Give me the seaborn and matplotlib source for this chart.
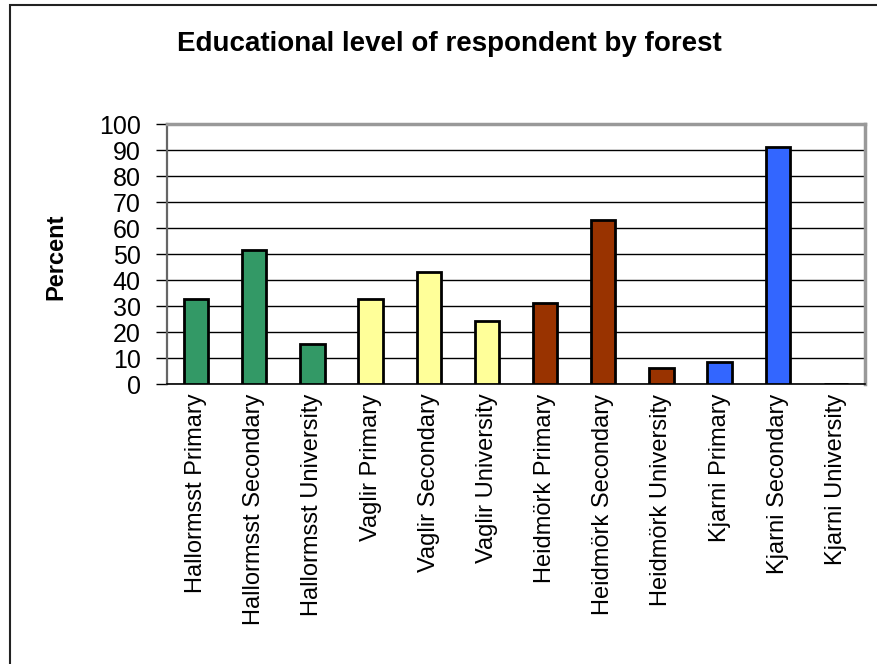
import matplotlib
matplotlib.use("Agg")
import matplotlib.pyplot as plt
import seaborn as sns
import pandas as pd
from matplotlib.patches import Rectangle

# Survey results: share of respondents at each educational level, per forest
forests = ["Hallormsst", "Vaglir", "Heidmörk", "Kjarni"]
levels = ["Primary", "Secondary", "University"]
categories = [f"{f} {lvl}" for f in forests for lvl in levels]
forest_of = [f for f in forests for _ in levels]
percent = [32.7, 51.7, 15.4,
           32.7, 43.1, 24.2,
           31.0, 62.9, 6.0,
           8.6, 91.3, 0.0]
forest_colors = {"Hallormsst": "#339966", "Vaglir": "#FFFF99",
                 "Heidmörk": "#993300", "Kjarni": "#3366FF"}
y_ticks = list(range(0, 101, 10))

df = pd.DataFrame({"category": categories, "forest": forest_of, "percent": percent})

sns.set_theme(style="white")
plt.rcParams["font.family"] = ["Liberation Sans", "DejaVu Sans"]
plt.rcParams["text.color"] = "black"
plt.rcParams["axes.labelcolor"] = "black"
plt.rcParams["xtick.color"] = "black"
plt.rcParams["ytick.color"] = "black"

fig = plt.figure(figsize=(8.77, 6.64), dpi=100)
ax = fig.add_axes([167 / 877, 1 - 384 / 664, (865 - 167) / 877, (384 - 124) / 664])

sns.barplot(data=df, x="category", y="percent", hue="forest", order=categories,
            palette=forest_colors, saturation=1, dodge=False, legend=False, width=0.42,
            edgecolor="black", linewidth=2, ax=ax, zorder=3)

ax.set_ylim(0, 100)
ax.set_xlim(-0.5, len(categories) - 0.5)
ax.set_yticks(y_ticks)
ax.set_yticklabels([str(t) for t in y_ticks], fontsize=18)
ax.yaxis.grid(True, color="black", linewidth=1.0, zorder=0)
ax.set_axisbelow(True)

ax.set_xticks(range(len(categories)))
ax.set_xticklabels(categories, rotation=90, fontsize=17)
ax.set_xticks([i - 0.5 for i in range(len(categories) + 1)], minor=True)
ax.tick_params(axis="x", which="major", length=0, pad=7)
ax.tick_params(axis="x", which="minor", length=7, width=1, color="black", direction="out")
ax.tick_params(axis="y", length=8, width=1, color="black", direction="out", pad=11, left=True)

ax.set_xlabel("")
ax.set_ylabel("Percent", fontsize=17, fontweight="bold")
ax.yaxis.set_label_coords((67 - 167) / 698, (384 - 257) / 260)

for side in ["top", "right"]:
    ax.spines[side].set_color("#999999")
    ax.spines[side].set_linewidth(2.5)
ax.spines["left"].set_color("#666666")
ax.spines["left"].set_linewidth(1.6)
ax.spines["bottom"].set_color("black")
ax.spines["bottom"].set_linewidth(1.2)

fig.suptitle("Educational level of respondent by forest", x=449 / 877, y=1 - 31 / 664,
             fontsize=20, fontweight="bold", va="top")

# outer chart frame
fig.patches.append(Rectangle((10 / 877, -0.1), 1.2, 1.1 - 5 / 664, transform=fig.transFigure,
                             fill=False, edgecolor="#222222", linewidth=1.5))

fig.savefig("out.png", dpi=100)
